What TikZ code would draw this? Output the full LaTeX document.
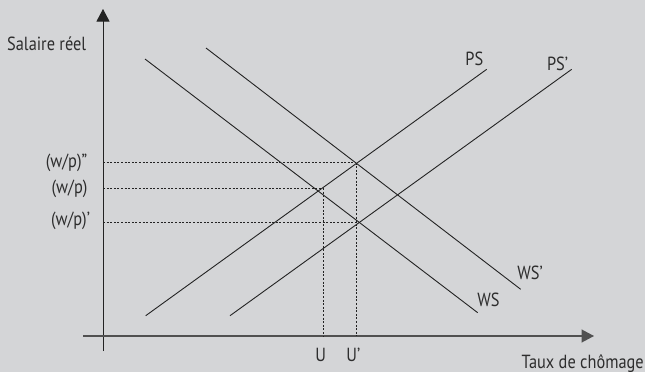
\documentclass[tikz,border=0pt]{standalone}
\usepackage{fontspec}
\setmainfont[FakeStretch=0.86]{PT Sans}
\usetikzlibrary{arrows.meta}
\definecolor{bg}{RGB}{212,213,215}
\definecolor{ink}{RGB}{35,35,35}
\definecolor{txt}{RGB}{45,45,45}
\definecolor{axisc}{RGB}{80,80,80}
\tikzset{
  curve/.style={draw=ink, line width=0.9pt},
  axisline/.style={draw=ink, line width=0.9pt, -{Triangle[length=12.5pt,width=13pt]}},
  guide/.style={draw=ink, line width=0.7pt, dash pattern=on 2pt off 1.6pt},
  lbl/.style={text=txt, font=\fontsize{19}{21}\selectfont, inner sep=0pt},
}
\begin{document}
\begin{tikzpicture}[x=1pt,y=-1pt]
\fill[bg] (0,0) rectangle (645,372);
\useasboundingbox (0,0) rectangle (645,372);
% axes
\coordinate (yb) at (103,351);
\coordinate (yt) at (103,9);
\coordinate (xl) at (83,336);
\coordinate (xr) at (594,336);
\draw[axisline] (yb) -- (yt);
\draw[axisline, draw=axisc, line width=1.3pt] (xl) -- (xr);
% curves
\coordinate (ws1) at (145,59);
\coordinate (ws2) at (477.7,312.7);
\coordinate (wsp1) at (206,48);
\coordinate (wsp2) at (520.7,289.3);
\coordinate (ps1) at (145.7,315.7);
\coordinate (ps2) at (486.7,69.3);
\coordinate (psp1) at (230,315.7);
\coordinate (psp2) at (571.7,69.3);
\draw[curve] (ws1) -- (ws2);
\draw[curve] (wsp1) -- (wsp2);
\draw[curve] (ps1) -- (ps2);
\draw[curve] (psp1) -- (psp2);
% guides
\coordinate (ywpp) at (103,162.5);
\coordinate (ywp) at (103,188);
\coordinate (ywpq) at (103,222);
\coordinate (ipp) at (356,162.5);
\coordinate (ip) at (323,188);
\coordinate (ipq) at (359,222);
\coordinate (xu) at (323,336);
\coordinate (xup) at (356,336);
\draw[guide] (ywpp) -- (ipp);
\draw[guide] (ywp) -- (ip);
\draw[guide] (ywpq) -- (ipq);
\draw[guide] (ip) -- (xu);
\draw[guide] (ipp) -- (xup);
% labels
\node[lbl, anchor=west] (ylab) at (7,44) {Salaire réel};
\node[lbl, anchor=base west] (xlab) at (521.5,368.3) {Taux de chômage};
\node[lbl] (lwpp) at (66.5,162.5) {(w/p)''};
\node[lbl] (lwp) at (69.5,189) {(w/p)};
\node[lbl] (lwpq) at (70.5,221) {(w/p)'};
\node[lbl] (lps) at (474.3,59.3) {PS};
\node[lbl] (lpsp) at (557.5,63.7) {PS'};
\node[lbl] (lwsp) at (530,272.5) {WS'};
\node[lbl] (lws) at (488.5,299.5) {WS};
\node[lbl] (lu) at (320.7,355) {U};
\node[lbl] (lup) at (353.3,355) {U'};
\end{tikzpicture}
\end{document}
